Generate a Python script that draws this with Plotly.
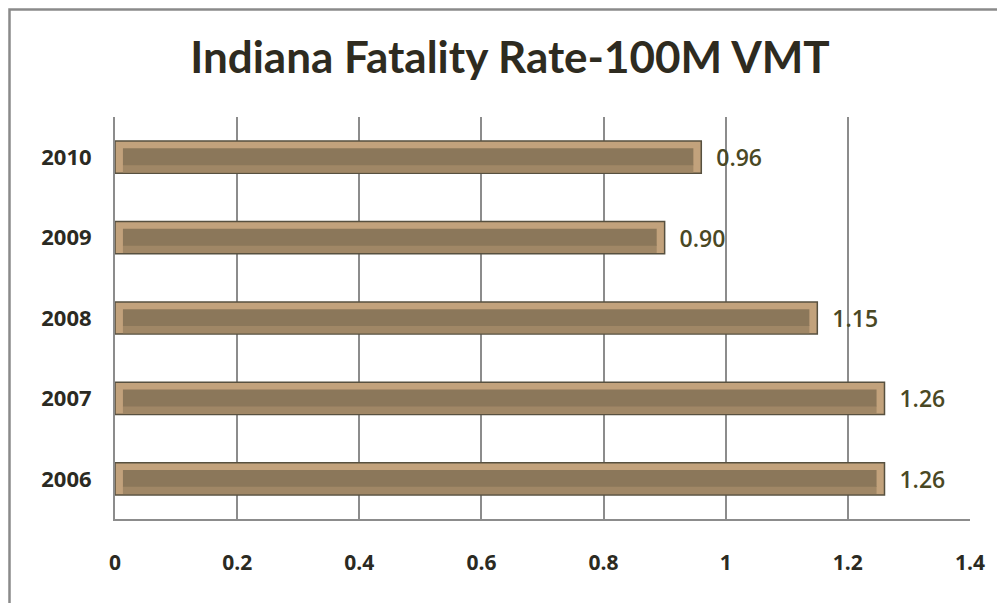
import plotly.graph_objects as go

years = ['2006', '2007', '2008', '2009', '2010']
rates = [1.26, 1.26, 1.15, 0.90, 0.96]
x_ticks = [0, 0.2, 0.4, 0.6, 0.8, 1.0, 1.2, 1.4]
x_tick_labels = ['0', '0.2', '0.4', '0.6', '0.8', '1', '1.2', '1.4']

TITLE_FONT = 'Lato, Open Sans, sans-serif'
FONT = 'Open Sans, Lato, sans-serif'
GRID = '#8c8c8c'
INSET = 0.013  # bevel inset, in axis units
inner = [r - 2 * INSET for r in rates]

fig = go.Figure()

# outer bar: light tan bevel with dark edge
fig.add_trace(go.Bar(
    y=years, x=rates, orientation='h', width=0.4, offset=-0.2,
    marker=dict(color='#c2a27c', line=dict(color='#57503f', width=1.5)),
    text=rates, texttemplate='  %{x:.2f}', textposition='outside',
    textfont=dict(family=FONT, size=23, color='#4a4824', weight=600),
    cliponaxis=False, hoverinfo='skip', showlegend=False,
))
# lower bevel band
fig.add_trace(go.Bar(
    y=years, x=inner, base=INSET, orientation='h', width=0.1, offset=-0.19,
    marker=dict(color='#a08766', line=dict(width=0)),
    hoverinfo='skip', showlegend=False,
))
# inner face of the bevel
fig.add_trace(go.Bar(
    y=years, x=inner, base=INSET, orientation='h', width=0.21, offset=-0.1,
    marker=dict(color='#8b775a', line=dict(width=0)),
    hoverinfo='skip', showlegend=False,
))

fig.update_layout(
    width=997, height=595,
    barmode='overlay',
    paper_bgcolor='white', plot_bgcolor='white',
    margin=dict(l=107, r=35, t=109, b=84),
    font=dict(family=FONT, color='#2b2a22'),
    title=dict(
        text='<b>Indiana Fatality Rate-100M VMT</b>',
        x=0.5035, xanchor='center', y=0.916, yanchor='middle',
        font=dict(family=TITLE_FONT, size=44, color='#2e2b20'),
    ),
    xaxis=dict(
        range=[0, 1.4], tickvals=x_ticks, ticktext=x_tick_labels,
        showgrid=True, gridcolor=GRID, gridwidth=2,
        showline=True, linecolor=GRID, linewidth=2,
        zeroline=False, ticks='', ticklabelstandoff=24,
        tickfont=dict(family=FONT, size=21, color='#2b2a22', weight='bold'),
    ),
    yaxis=dict(
        categoryorder='array', categoryarray=years,
        showgrid=False, showline=True, linecolor=GRID, linewidth=2,
        ticks='', ticklabelstandoff=17,
        tickfont=dict(family=FONT, size=22, color='#2b2a22', weight='bold'),
    ),
    # chart frame, running off the right and bottom edges
    shapes=[dict(
        type='rect', xref='paper', yref='paper',
        x0=-0.1234, x1=1.2, y0=-0.4, y1=1.2674,
        line=dict(color='#8a8a8a', width=2.5), fillcolor='rgba(0,0,0,0)',
        layer='below',
    )],
)

fig.write_html('out.html')
